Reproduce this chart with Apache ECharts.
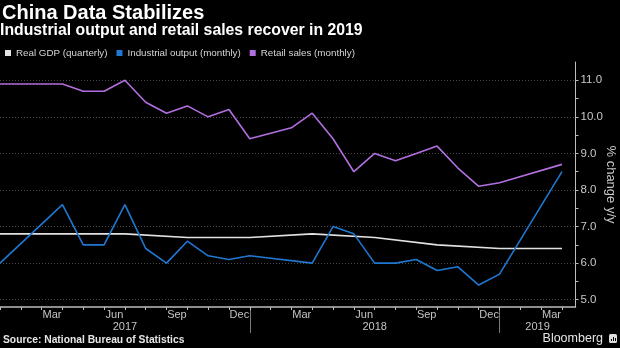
<!DOCTYPE html>
<html>
<head>
<meta charset="utf-8">
<script src="https://cdn.jsdelivr.net/npm/echarts@6/dist/echarts.min.js"></script>
<style>
  html, body { margin: 0; padding: 0; background: #000; }
  #chart { width: 620px; height: 348px; }
</style>
</head>
<body>
<div id="chart"></div>
<script>
// Month-end observations, Dec 2016 through Mar 2019
const months = [
  '2016-12',
  '2017-01', '2017-02', '2017-03', '2017-04', '2017-05', '2017-06',
  '2017-07', '2017-08', '2017-09', '2017-10', '2017-11', '2017-12',
  '2018-01', '2018-02', '2018-03', '2018-04', '2018-05', '2018-06',
  '2018-07', '2018-08', '2018-09', '2018-10', '2018-11', '2018-12',
  '2019-01', '2019-02', '2019-03'
];

// Real GDP, % y/y (quarterly, placed at quarter end)
const realGdp = [
  6.8,
  null, null, 6.8, null, null, 6.8, null, null, 6.7, null, null, 6.7,
  null, null, 6.8, null, null, 6.7, null, null, 6.5, null, null, 6.4,
  null, null, 6.4
];

// Industrial output, % y/y (monthly; Jan-Feb not reported separately)
const industrialOutput = [
  6.0,
  null, null, 7.6, 6.5, 6.5, 7.6, 6.4, 6.0, 6.6, 6.2, 6.1, 6.2,
  null, null, 6.0, 7.0, 6.8, 6.0, 6.0, 6.1, 5.8, 5.9, 5.4, 5.7,
  null, null, 8.5
];

// Retail sales, % y/y (monthly)
const retailSales = [
  10.9,
  null, null, 10.9, 10.7, 10.7, 11.0, 10.4, 10.1, 10.3, 10.0, 10.2, 9.4,
  null, 9.7, 10.1, 9.4, 8.5, 9.0, 8.8, 9.0, 9.2, 8.6, 8.1, 8.2,
  null, null, 8.7
];

const seriesNames = ['Real GDP (quarterly)', 'Industrial output (monthly)', 'Retail sales (monthly)'];
const seriesColors = ['#e2e2e2', '#1f78d2', '#b26fe0'];

const monthNames = ['Jan', 'Feb', 'Mar', 'Apr', 'May', 'Jun', 'Jul', 'Aug', 'Sep', 'Oct', 'Nov', 'Dec'];
const labelledMonths = ['Mar', 'Jun', 'Sep', 'Dec'];
const yearLabels = ['2017', '2018', '2019'];

const yLabelValues = [5, 6, 7, 8, 9, 10, 11];
const yTickValues = [5, 5.5, 6, 6.5, 7, 7.5, 8, 8.5, 9, 9.5, 10, 10.5, 11];

const Y_MIN = 4.8;
const Y_MAX = 11.5;
const X_MAX = 27.65;   // a little room after the last month
const FONT = "'Liberation Sans', Arial, sans-serif";

// x is the month's index in `months`; each month's label sits mid-month
const monthTickValues = months.map((m, i) => i);
const monthLabelValues = [];
const monthLabelText = {};
months.forEach((m, i) => {
  const name = monthNames[parseInt(m.slice(5), 10) - 1];
  if (labelledMonths.includes(name) && i - 0.5 >= 0) {
    monthLabelValues.push(i - 0.5);
    monthLabelText[(i - 0.5).toFixed(2)] = name;
  }
});

// Year spans: from the previous December's end to the year's last month (clipped to axis end)
const yearCenters = [];
const yearBreaks = [];
const yearText = {};
yearLabels.forEach(y => {
  const idx = months.map((m, i) => m.startsWith(y) ? i : -1).filter(i => i >= 0);
  const start = idx[0] - 1;
  const end = Math.min(start + 12, X_MAX);
  const c = (start + end) / 2;
  yearCenters.push(c);
  yearText[c.toFixed(2)] = y;
  if (start > 0) yearBreaks.push(start);
});

function toPoints(arr) {
  return months.map((m, i) => [i, arr[i]]).filter(p => p[1] !== null);
}

const chart = echarts.init(document.getElementById('chart'), null, { renderer: 'canvas' });

chart.setOption({
  backgroundColor: '#000000',
  animation: false,
  textStyle: { fontFamily: FONT },
  grid: { left: 0, right: 44.5, top: 62, bottom: 41, containLabel: false, outerBoundsMode: 'none' },
  legend: {
    data: seriesNames,
    left: 0,
    top: 43,
    icon: 'rect',
    itemWidth: 6,
    itemHeight: 6,
    itemGap: 9,
    selectedMode: false,
    textStyle: { color: '#d6d6d6', fontSize: 9.8, fontFamily: FONT }
  },
  xAxis: [
    {
      type: 'value',
      min: 0,
      max: X_MAX,
      position: 'bottom',
      axisLine: { show: true, onZero: false, lineStyle: { color: '#bdbdbd', width: 1.5 } },
      axisTick: { show: true, length: 3, customValues: monthTickValues, lineStyle: { color: '#bdbdbd' } },
      axisLabel: {
        customValues: monthLabelValues,
        formatter: v => monthLabelText[Number(v).toFixed(2)] || '',
        color: '#c4c4c4',
        fontSize: 11,
        margin: 2,
        fontFamily: FONT
      },
      splitLine: { show: false }
    },
    {
      type: 'value',
      min: 0,
      max: X_MAX,
      position: 'bottom',
      offset: 3,
      axisLine: { show: false, onZero: false },
      axisTick: { show: true, length: 23, customValues: yearBreaks, lineStyle: { color: '#7a7a7a' } },
      axisLabel: {
        customValues: yearCenters,
        formatter: v => yearText[Number(v).toFixed(2)] || '',
        color: '#c4c4c4',
        fontSize: 11,
        margin: 11,
        fontFamily: FONT
      },
      splitLine: { show: false }
    }
  ],
  yAxis: [
    {
      type: 'value',
      position: 'right',
      min: Y_MIN,
      max: Y_MAX,
      axisLine: { show: true, onZero: false, lineStyle: { color: '#bdbdbd', width: 1 } },
      axisTick: { show: true, length: 3, customValues: yTickValues, lineStyle: { color: '#bdbdbd' } },
      axisLabel: {
        customValues: yLabelValues,
        formatter: v => Number(v).toFixed(1),
        color: '#c8c8c8',
        fontSize: 11.5,
        margin: 5,
        fontFamily: FONT
      },
      splitLine: { show: false },
      name: '% change y/y',
      nameLocation: 'middle',
      nameRotate: -90,
      nameGap: 29,
      nameMoveOverlap: false,
      nameTextStyle: { color: '#c8c8c8', fontSize: 13, fontFamily: FONT }
    },
    {
      // carries the dotted gridlines at whole percentages
      type: 'value',
      position: 'right',
      min: Y_MIN,
      max: Y_MAX,
      axisLine: { show: false },
      axisTick: { show: false, customValues: yLabelValues },
      axisLabel: { show: false },
      splitLine: { show: true, lineStyle: { color: '#4a4a4a', type: [1, 2], width: 1 } }
    }
  ],
  series: [
    {
      name: seriesNames[0], type: 'line', data: toPoints(realGdp),
      symbol: 'none', color: seriesColors[0], lineStyle: { width: 1.6 }, z: 3
    },
    {
      name: seriesNames[1], type: 'line', data: toPoints(industrialOutput),
      symbol: 'none', color: seriesColors[1], lineStyle: { width: 1.6 }, z: 4
    },
    {
      name: seriesNames[2], type: 'line', data: toPoints(retailSales),
      symbol: 'none', color: seriesColors[2], lineStyle: { width: 1.6 }, z: 4
    }
  ],
  graphic: [
    {
      type: 'text', left: 2, top: 3,
      style: { text: 'China Data Stabilizes', fill: '#ffffff', fontWeight: 'bold', fontSize: 20, fontFamily: FONT }
    },
    {
      type: 'text', left: 0, top: 23,
      style: { text: 'Industrial output and retail sales recover in 2019', fill: '#ffffff', fontWeight: 'bold', fontSize: 15.8, fontFamily: FONT }
    },
    {
      type: 'text', left: 3, top: 335,
      style: { text: 'Source: National Bureau of Statistics', fill: '#e6e6e6', fontWeight: 'bold', fontSize: 10.3, fontFamily: FONT }
    },
    {
      type: 'text', right: 17, top: 332,
      style: { text: 'Bloomberg', fill: '#e6e6e6', fontSize: 12.5, fontFamily: FONT }
    },
    {
      type: 'group', left: 609, top: 334,
      children: [
        { type: 'rect', shape: { x: 0, y: 0, width: 8, height: 9, r: 1.5 }, style: { fill: '#dcdcdc' } },
        { type: 'rect', shape: { x: 2, y: 5, width: 1, height: 2 }, style: { fill: '#000' } },
        { type: 'rect', shape: { x: 4, y: 3, width: 1, height: 4 }, style: { fill: '#000' } },
        { type: 'rect', shape: { x: 6, y: 4, width: 1, height: 3 }, style: { fill: '#000' } }
      ]
    }
  ]
});
</script>
</body>
</html>
